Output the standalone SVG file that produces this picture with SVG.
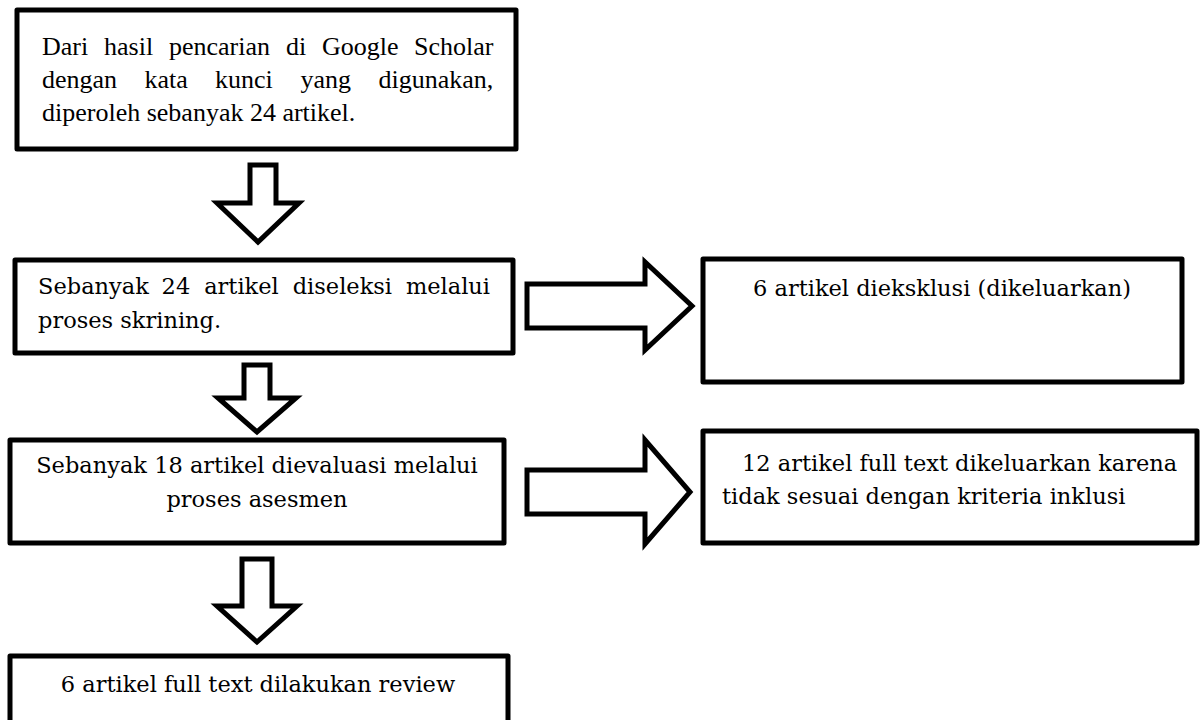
<svg xmlns="http://www.w3.org/2000/svg" width="1201" height="720" viewBox="0 0 1201 720">
<style>
.box{fill:#fff;stroke:#000;stroke-width:5;stroke-linejoin:round}
.arr{fill:#fff;stroke:#000;stroke-width:5;stroke-linejoin:miter}
.t1{font-family:"Liberation Serif","Times New Roman",serif;font-size:26px;fill:#000}
.t2{font-family:"DejaVu Serif","Liberation Serif",serif;font-size:22.5px;fill:#000}
.mid{text-anchor:middle}
</style>
<rect width="1201" height="720" fill="#fff"/>
<g id="connectors">
<polygon class="arr" points="250,165 276,165 276,203 299,203 258,242 217,203 250,203"/>
<polygon class="arr" points="244,365 270,365 270,398 296,398 257,432 218,398 244,398"/>
<polygon class="arr" points="242,559 272,559 272,606 297,606 257,642 217,606 242,606"/>
<polygon class="arr" points="527,284 645,284 645,262 692,306 645,350 645,328 527,328"/>
<polygon class="arr" points="527,470 645,470 645,440 690,492 645,544 645,514 527,514"/>
</g>
<g id="n1">
<rect class="box" x="17" y="10" width="499" height="139"/>
<text class="t1" y="55"><tspan x="42">Dari</tspan><tspan x="104">hasil</tspan><tspan x="169">pencarian</tspan><tspan x="286">di</tspan><tspan x="322">Google</tspan><tspan x="414">Scholar</tspan></text>
<text class="t1" y="88"><tspan x="42">dengan</tspan><tspan x="144.5">kata</tspan><tspan x="215">kunci</tspan><tspan x="300.5">yang</tspan><tspan x="378.5">digunakan,</tspan></text>
<text class="t1" x="42" y="121">diperoleh sebanyak 24 artikel.</text>
</g>
<g id="n2">
<rect class="box" x="15" y="260" width="498" height="93"/>
<text class="t2" y="294"><tspan x="38">Sebanyak</tspan><tspan x="161.6">24</tspan><tspan x="204.2">artikel</tspan><tspan x="292.7">diseleksi</tspan><tspan x="405.9">melalui</tspan></text>
<text class="t2" x="38" y="328">proses skrining.</text>
</g>
<g id="n3">
<rect class="box" x="703" y="259" width="479" height="123"/>
<text class="t2 mid" x="942" y="296">6 artikel dieksklusi (dikeluarkan)</text>
</g>
<g id="n4">
<rect class="box" x="10" y="440" width="494" height="103"/>
<text class="t2 mid" x="257" y="473">Sebanyak 18 artikel dievaluasi melalui</text>
<text class="t2 mid" x="257" y="507">proses asesmen</text>
</g>
<g id="n5">
<rect class="box" x="703" y="431" width="494" height="112"/>
<text class="t2" x="742" y="471">12 artikel full text dikeluarkan karena</text>
<text class="t2" x="722" y="504">tidak sesuai dengan kriteria inklusi</text>
</g>
<g id="n6">
<rect class="box" x="10" y="656" width="498" height="90"/>
<text class="t2 mid" x="258" y="692">6 artikel full text dilakukan review</text>
</g>
</svg>
